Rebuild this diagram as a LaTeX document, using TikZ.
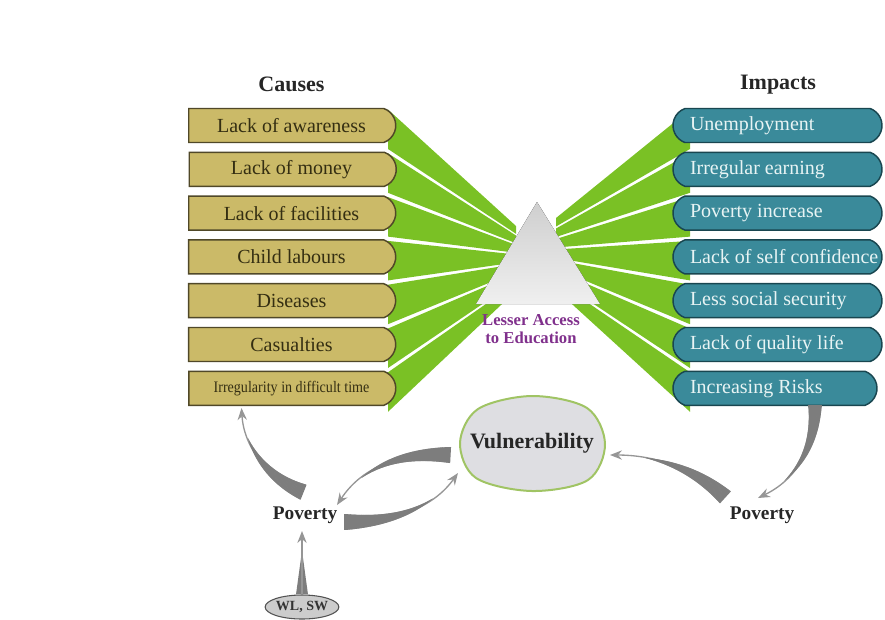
\documentclass[tikz,border=0pt]{standalone}
\usepackage{fontspec}
\setmainfont{Liberation Serif}
\usetikzlibrary{shapes.misc,shapes.geometric,arrows.meta,decorations.markings,calc}
\definecolor{khaki}{RGB}{203,186,104}
\definecolor{khakiedge}{RGB}{80,72,40}
\definecolor{khakitext}{RGB}{52,46,18}
\definecolor{teal1}{RGB}{58,138,154}
\definecolor{tealedge}{RGB}{25,70,80}
\definecolor{tealtext}{RGB}{232,244,244}
\definecolor{wedgegreen}{RGB}{122,193,37}
\definecolor{accpurple}{RGB}{128,48,140}
\definecolor{arrowgray}{RGB}{125,125,125}
\definecolor{arrowlight}{RGB}{150,150,150}
\definecolor{vulfill}{RGB}{222,222,226}
\definecolor{vuledge}{RGB}{160,196,100}
\begin{document}
\begin{tikzpicture}[x=0.75pt,y=-0.75pt,
  causebox/.style={rounded rectangle, rounded rectangle left arc=none,
     rounded rectangle arc length=140,
     minimum width=156.75pt, minimum height=25.5pt, inner xsep=0.75pt, inner ysep=0pt,
     fill=khaki, draw=khakiedge, line width=1.1pt, text=khakitext,
     font=\fontsize{15}{18}\selectfont},
  impactbox/.style={rounded rectangle, rounded rectangle arc length=140,
     minimum width=158.25pt, minimum height=25.5pt, inner xsep=0.75pt, inner ysep=0pt,
     fill=teal1, draw=tealedge, line width=1.1pt, text=tealtext,
     font=\fontsize{15}{18}\selectfont},
  titletext/.style={font=\bfseries\fontsize{16.5}{18}\selectfont, text=black!85},
  povtext/.style={font=\bfseries\fontsize{14.5}{16}\selectfont, text=black!85},
  thinarrow/.style={draw=arrowlight, line width=1pt,
     -{Stealth[length=9pt,width=7pt,inset=3pt]}},
  fat/.style={thinarrow,
     postaction={decorate, decoration={markings,
       mark=between positions 0 and 0.72 step 0.5pt with {
         \pgfmathsetmacro\fathw{#1*(1-\pgfkeysvalueof{/pgf/decoration/mark info/distance from start}/(0.72*\pgfdecoratedpathlength))}
         \fill[arrowgray] (-0.45pt,-\fathw pt) rectangle (0.45pt,\fathw pt);
       }}}}
]
\useasboundingbox (0,0) rectangle (885,619);

% titles
\node[titletext] (tc) at (291.5,84) {Causes};
\node[titletext] (ti) at (778,85) {Impacts};

% green wedges
\foreach \yy [count=\k from 0] in {125.5,169.3,213.1,256.9,300.7,344.5,388.3}{
  \fill[wedgegreen] (388,\yy-16) -- (388,\yy+23.5) -- (516,226+\k*9.5+7.8) -- (516,226+\k*9.5) -- cycle;
  \fill[wedgegreen] (690,\yy-16) -- (690,\yy+23.5) -- (556,218+\k*10.5+8.5) -- (556,218+\k*10.5) -- cycle;
}

% triangle
\fill[top color=gray!38, bottom color=gray!12] (537,202) -- (600,304) -- (476,304) -- cycle;

% cause boxes
\node[causebox] (c1) at (291.5,125.5) {Lack of awareness};
\node[causebox] (c2) at (291.5,169.3) {Lack of money};
\node[causebox] (c3) at (291.5,213.1) {Lack of facilities};
\node[causebox] (c4) at (291.5,256.9) {Child labours};
\node[causebox] (c5) at (291.5,300.7) {Diseases};
\node[causebox] (c6) at (291.5,344.5) {Casualties};
\node[causebox] (c7) at (291.5,388.3) {\scalebox{0.88}[1]{\fontsize{12}{14}\selectfont Irregularity in difficult time}};

% impact boxes
\node[impactbox] (i1) at (777.5,125.5) {\makebox[131.25pt][l]{Unemployment}};
\node[impactbox] (i2) at (777.5,169.3) {\makebox[131.25pt][l]{Irregular earning}};
\node[impactbox] (i3) at (777.5,213.1) {\makebox[131.25pt][l]{Poverty increase}};
\node[impactbox] (i4) at (777.5,256.9) {\makebox[131.25pt][l]{Lack of self confidence}};
\node[impactbox] (i5) at (777.5,300.7) {\makebox[131.25pt][l]{Less social security}};
\node[impactbox] (i6) at (777.5,344.5) {\makebox[131.25pt][l]{Lack of quality life}};
\node[impactbox, minimum width=154.5pt] (i7) at (775,388.3) {\makebox[127.5pt][l]{Increasing Risks}};

% centre label
\node[font=\bfseries\fontsize{12.5}{14}\selectfont, text=accpurple, align=center] (acc) at (531,329) {Lesser Access\\to Education};

% vulnerability
\draw[fill=vulfill, draw=vuledge, line width=1.5pt]
  plot[smooth cycle, tension=0.55] coordinates {(460,443) (478,409) (532,396) (587,408) (605,444) (588,480) (532,491) (476,478)};
\node[ellipse, minimum width=108.75pt, minimum height=71.25pt, inner sep=0pt,
      font=\bfseries\fontsize{16.5}{18}\selectfont, text=black!85] (vul) at (532,443) {Vulnerability};

% poverty labels
\node[povtext] (povL) at (305,515) {Poverty};
\node[povtext] (povR) at (762,515) {Poverty};
\node[ellipse, fill=gray!40, draw=gray!65!black, line width=0.8pt, minimum width=51.75pt,
      minimum height=18pt, inner sep=0pt, font=\bfseries\fontsize{10.5}{12}\selectfont,
      text=black!80] (wl) at (302,607) {WL, SW};

% arrows
\draw[fat=6] ($(povL)+(-2,-23)$) .. controls (268,478) and (244,448) .. ($(c7.south)+(-50,2)$);
\draw[fat=6] ($(vul)+(-82,12)$) .. controls (395,452) and (360,470) .. ($(povL)+(32,-10)$);
\draw[fat=6] ($(povL)+(40,7)$) .. controls (400,522) and (435,505) .. ($(vul)+(-74,30)$);
\draw[fat=5] ($(i7.south)+(40,0)$) .. controls (815,450) and (795,480) .. ($(povR)+(-4,-17)$);
\draw[fat=6] ($(povR)+(-37,-18)$) .. controls (690,465) and (650,455) .. ($(vul)+(78,12)$);
\fill[arrowgray] ($(wl.north)+(-6,0)$) -- ($(wl.north)+(6,0)$) -- ($(povL)+(-2.4,40)$) -- ($(povL)+(-3.6,40)$) -- cycle;
\draw[thinarrow] (wl.north) -- ($(povL)+(-3,16)$);
\end{tikzpicture}
\end{document}
